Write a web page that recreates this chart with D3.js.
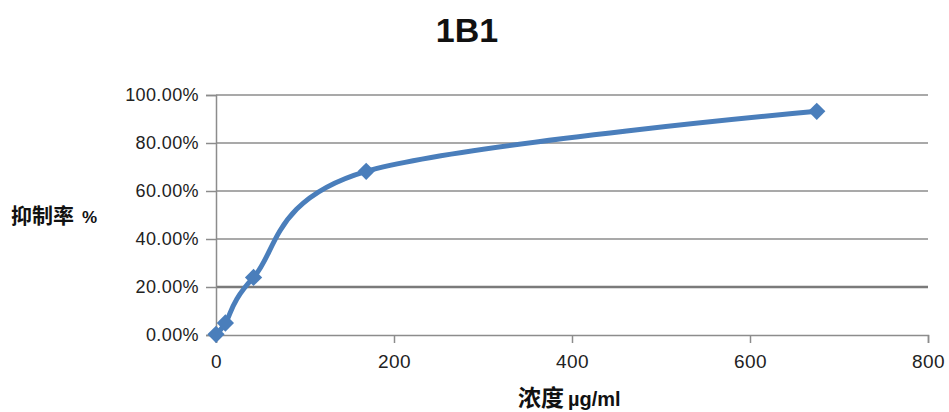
<!DOCTYPE html>
<html><head><meta charset="utf-8">
<script src="https://cdn.jsdelivr.net/npm/d3@7"></script>
<style>body{margin:0;background:#fff}svg{display:block}</style>
</head><body><svg id="c" width="949" height="412"></svg>
<script>
const concentrations = [0, 10.55, 42.19, 168.75, 675];
const inhibition = [0.003, 0.05, 0.24, 0.682, 0.932];
const xTicks = [0, 200, 400, 600, 800];
const yTicks = [0, 0.2, 0.4, 0.6, 0.8, 1.0];
const title = "1B1";

const svg = d3.select("#c");
const x = d3.scaleLinear().domain([0, 800]).range([216, 928]);
const y = d3.scaleLinear().domain([0, 1]).range([335, 95]);
const font = "'Liberation Sans', Arial, sans-serif";
const cjk = "'Noto Sans CJK SC', sans-serif";

// gridlines
svg.append("g").selectAll("line").data(yTicks.filter(d => d > 0)).join("line")
  .attr("x1", x(0)).attr("x2", x(800))
  .attr("y1", d => y(d)).attr("y2", d => y(d))
  .attr("stroke", d => d === 0.2 ? "#7a7a7a" : "#8c8c8c")
  .attr("stroke-width", d => d === 0.2 ? 2.5 : 1.5);

// y axis
const yAxis = svg.append("g").attr("transform", `translate(${x(0)},0)`)
  .call(d3.axisLeft(y).tickValues(yTicks).tickSize(10).tickPadding(7)
    .tickFormat(d => (d * 100).toFixed(2) + "%"));
yAxis.select(".domain").attr("stroke", "#8c8c8c").attr("stroke-width", 1.5);
yAxis.selectAll(".tick line").attr("stroke", "#8c8c8c").attr("stroke-width", 1.5);
yAxis.selectAll("text").attr("font-family", font).attr("font-size", 18)
  .attr("letter-spacing", 0.4).attr("fill", "#222");

// x axis
const xAxis = svg.append("g").attr("transform", `translate(0,${y(0)})`)
  .call(d3.axisBottom(x).tickValues(xTicks).tickSize(8).tickPadding(12));
xAxis.select(".domain").attr("stroke", "#8c8c8c").attr("stroke-width", 1.5);
xAxis.selectAll(".tick line").attr("stroke", "#8c8c8c").attr("stroke-width", 1.5);
xAxis.selectAll("text").attr("font-family", font).attr("font-size", 19)
  .attr("letter-spacing", 0.5).attr("fill", "#222");

// line
const pts = concentrations.map((c, i) => [c, inhibition[i]]);
svg.append("path").datum(pts)
  .attr("d", d3.line().x(d => x(d[0])).y(d => y(d[1])).curve(d3.curveCardinal.tension(0)))
  .attr("fill", "none").attr("stroke", "#4a7ebb").attr("stroke-width", 5)
  .attr("stroke-linejoin", "round");

// markers
svg.append("g").selectAll("path").data(pts).join("path")
  .attr("transform", d => `translate(${x(d[0])},${y(d[1])})`)
  .attr("d", d3.symbol(d3.symbolDiamond2, 190)())
  .attr("fill", "#4a7ebb");

// title
svg.append("text").attr("x", 467).attr("y", 42).attr("text-anchor", "middle")
  .attr("font-family", font).attr("font-weight", "bold").attr("font-size", 34)
  .attr("fill", "#111").text(title);

// y title
const yt = svg.append("text").attr("x", 11).attr("y", 223)
  .attr("font-family", cjk).attr("font-weight", "bold").attr("fill", "#111");
yt.append("tspan").attr("font-size", 21).text("抑制率");
yt.append("tspan").attr("font-size", 17).attr("dx", 8).attr("font-family", font).text("%");

// x title
const xt = svg.append("text").attr("x", 518).attr("y", 406)
  .attr("font-family", cjk).attr("font-weight", "bold").attr("fill", "#111");
xt.append("tspan").attr("font-size", 23).text("浓度");
xt.append("tspan").attr("font-size", 20).attr("dx", 4).attr("font-family", font).text("µg/ml");
</script></body></html>
